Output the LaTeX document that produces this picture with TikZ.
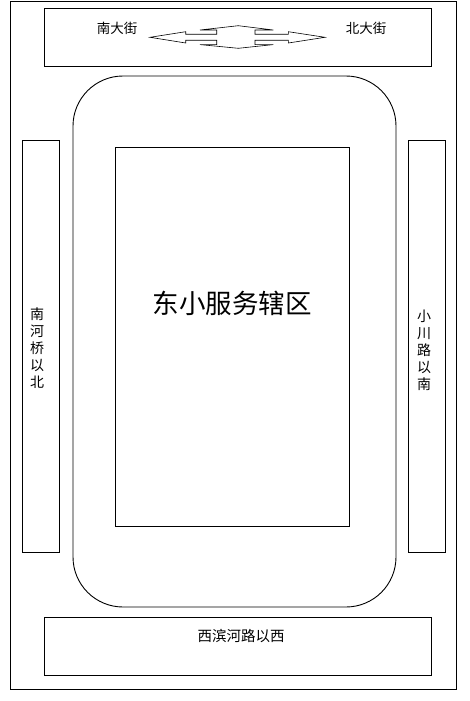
\documentclass[tikz,border=0pt]{standalone}
\usepackage{fontspec}
\newfontfamily\cjk{Noto Sans CJK SC}
\begin{document}
\begin{tikzpicture}[x=1pt,y=-1pt,
  box/.style={draw=black,line width=0.9pt},
  lbl/.style={font=\cjk\fontsize{13.5}{15}\selectfont,inner sep=0pt},
  vlbl/.style={font=\cjk\fontsize{14}{17}\selectfont,align=center,inner sep=0pt}]
\useasboundingbox (0,0) rectangle (470,701);
\fill[white] (0,0) rectangle (470,701);
\draw[box] (10.5,1.5) rectangle (456.5,689.5);
\draw[box] (44.5,8.5) rectangle (431.5,66);
\draw[box] (44.5,617) rectangle (431.5,675);
\draw[box] (22,140) rectangle (59,552);
\draw[box] (408,140) rectangle (445,552);
\draw[box,rounded corners=50] (73,76) rectangle (396,607);
\draw[box] (115,147.5) rectangle (349,526);
\node[font=\cjk\fontsize{26.5}{30}\selectfont,inner sep=0pt] (main) at (232,303) {东小服务辖区};
\node[lbl] (south) at (117,28) {南大街};
\node[lbl] (north) at (366,28) {北大街};
\node[lbl,font=\cjk\fontsize{14.5}{16}\selectfont] (west) at (241,636) {西滨河路以西};
\node[vlbl] (lv) at (37,348) {南\\河\\桥\\以\\北};
\node[vlbl] (rv) at (424,350) {小\\川\\路\\以\\南};
\draw[line width=0.6pt,fill=white]
 (150,37.3) -- (185.7,31.7) -- (185.7,34.3) -- (216.7,34.3) -- (216.7,30) -- (200,30)
 -- (238.3,25.7) -- (273.3,30) -- (255,30) -- (255,34.3) -- (288.3,34.3) -- (288.3,31.7)
 -- (325,37.3) -- (288.3,43) -- (288.3,40.3) -- (255,40.3) -- (255,44.6) -- (273.3,44.6)
 -- (238.3,48.3) -- (200,44.6) -- (216.7,44.6) -- (216.7,40.3) -- (185.7,40.3) -- (185.7,43) -- cycle;
\end{tikzpicture}
\end{document}
